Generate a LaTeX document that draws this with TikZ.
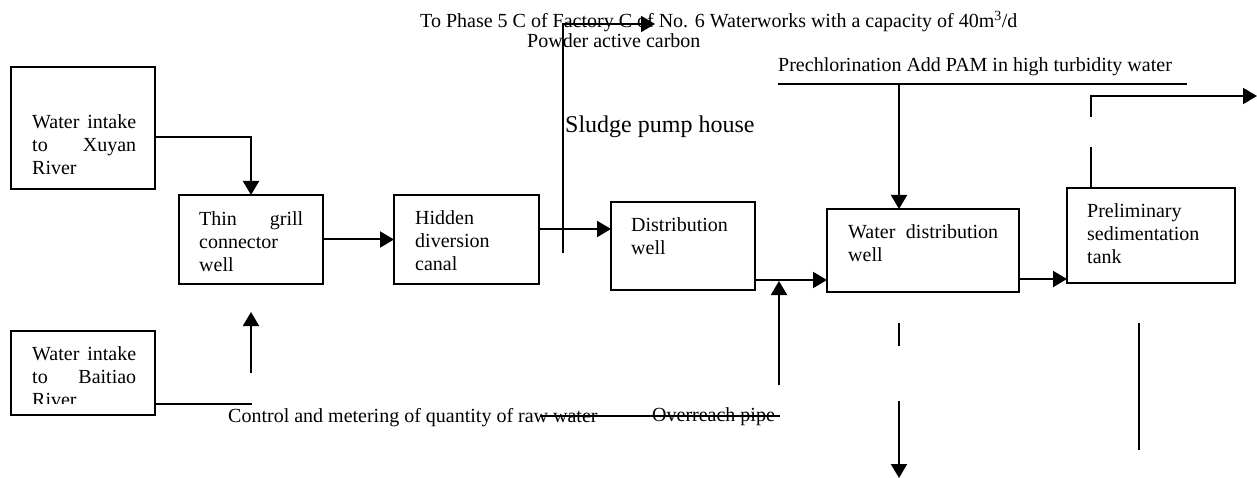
\documentclass[tikz,border=0pt]{standalone}
\usepackage{fontspec}
\setmainfont{Liberation Serif}
\usetikzlibrary{arrows.meta}

\newcommand\boxfont{\fontsize{20}{23}\selectfont\hyphenpenalty=10000 \exhyphenpenalty=10000 \tolerance=10000 }
\newcommand\lblfont{\fontsize{20}{23}\selectfont}
\newcommand\biglblfont{\fontsize{24}{28}\selectfont}

\tikzset{
  lw/.style={line width=2pt},
  box/.style={draw, lw, rectangle, inner sep=0pt, outer sep=0pt},
  flow/.style={lw, -{Triangle[length=14pt,width=16pt]}},
  pipe/.style={lw},
  boxtext/.style={anchor=north west, inner sep=0pt, text width=#1, align=justify, font=\boxfont},
  lbl/.style={anchor=base west, inner sep=0pt, font=\lblfont},
}

\begin{document}
\begin{tikzpicture}[x=1pt,y=-1pt]
\useasboundingbox (0,0) rectangle (1257,478);

% process units
\node[box, minimum width=144pt, minimum height=122pt] (xuyan)   at (83,128)    {};
\node[box, minimum width=144pt, minimum height=89pt]  (grill)   at (251,239.5) {};
\node[box, minimum width=145pt, minimum height=89pt]  (hidden)  at (466.5,239.5) {};
\node[box, minimum width=144pt, minimum height=88pt]  (dist)    at (683,246)   {};
\node[box, minimum width=192pt, minimum height=83pt]  (wdw)     at (923,250.5) {};
\node[box, minimum width=168pt, minimum height=95pt]  (prelim)  at (1151,235.5) {};
\node[box, minimum width=144pt, minimum height=84pt]  (baitiao) at (83,373)    {};

% unit captions
\node[boxtext=104pt] (xuyanT)  at (32,111.9)  {\strut Water intake to Xuyan River};
\node[boxtext=104pt] (grillT)  at (199,208.9) {\strut Thin grill connector well};
\node[boxtext=104pt] (hiddenT) at (415,207.9) {\strut Hidden diversion canal};
\node[boxtext=104pt] (distT)   at (631,214.9) {\strut Distribution well};
\node[boxtext=150pt] (wdwT)    at (848,221.9) {\strut Water distribution well};
\node[boxtext=128pt] (prelimT) at (1087,200.9) {\strut Preliminary sedimentation tank};
\begin{scope}
  \clip (11,331) rectangle (155,403);
  \node[boxtext=104pt] (baitiaoT) at (32,343.9) {\strut Water intake to Baitiao River};
\end{scope}

% free labels
\node[lbl] (phase)  at (420,28)  {To Phase 5 C of Factory C of No. 6 Waterworks with a capacity of 40m\textsuperscript{3}/d};
\node[lbl] (pac)    at (527,48)  {Powder active carbon};
\node[lbl, font=\biglblfont] (sludge) at (565,133) {Sludge pump house};
\node[lbl] (prechl) at (778,72)  {Prechlorination Add PAM in high turbidity water};
\node[lbl] (ctrl)   at (228,422) {Control and metering of quantity of raw water};
\node[lbl] (over)   at (652,421) {Overreach pipe};

% junction and end points of the pipe runs
\coordinate (slTail) at (563,253);
\coordinate (pacTip) at (655,24);
\coordinate (opTail) at (779,385);
\coordinate (opJoin) at (779,281);
\coordinate (pcL)    at (778,84);
\coordinate (pcR)    at (1187,84);
\coordinate (pcDrop) at (899,84);
\coordinate (poA)    at (1091,147);
\coordinate (poB)    at (1091,117);
\coordinate (poTip)  at (1257,96);
\coordinate (dA)     at (899,323);
\coordinate (dB)     at (899,346);
\coordinate (dC)     at (899,401);
\coordinate (dTip)   at (899,478);
\coordinate (rA)     at (1139,323);
\coordinate (rB)     at (1139,450);
\coordinate (btEnd)  at (252,404);
\coordinate (mTail)  at (251,373);
\coordinate (mTip)   at (251,312);
\coordinate (sA)     at (540,416);
\coordinate (sB)     at (780,416);

% main flow
\draw[flow] (xuyan.east |- 0,137) -| (grill.north);
\draw[flow] (grill.east) -- (hidden.west);
\draw[flow] (hidden.east |- 0,229) -- (dist.west |- 0,229);
\draw[flow] (dist.east |- 0,280) -- (wdw.west |- 0,280);
\draw[flow] (wdw.east |- 0,279) -- (prelim.west |- 0,279);

% branch lines
\draw[flow] (slTail) |- (pacTip);
\draw[flow] (opTail) -- (opJoin);
\draw[pipe] (pcL) -- (pcR);
\draw[flow] (pcDrop) -- (pcDrop |- wdw.north);
\draw[pipe] (poA |- prelim.north) -- (poA);
\draw[flow] (poB) |- (poTip);
\draw[pipe] (dA) -- (dB);
\draw[flow] (dC) -- (dTip);
\draw[pipe] (rA) -- (rB);
\draw[pipe] (baitiao.east |- btEnd) -- (btEnd);
\draw[flow] (mTail) -- (mTip);
\draw[pipe] (sA) -- (sB);
\end{tikzpicture}
\end{document}
